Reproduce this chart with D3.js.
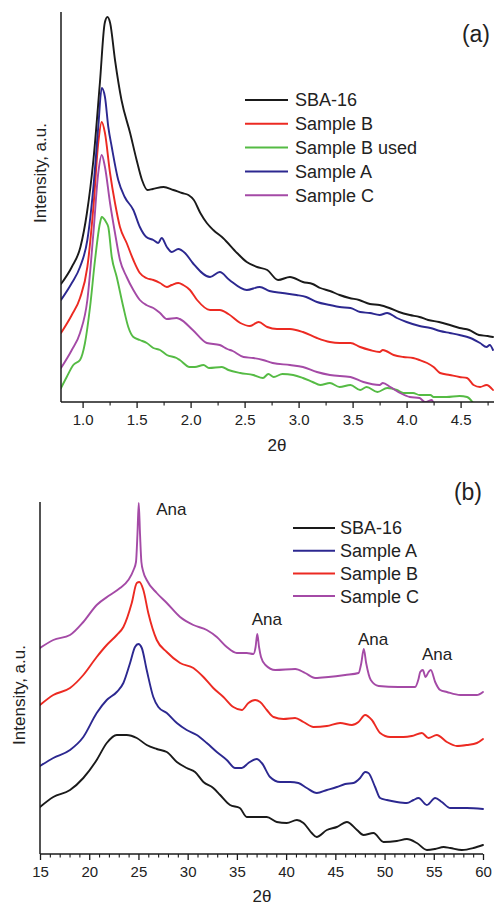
<!DOCTYPE html>
<html>
<head>
<meta charset="utf-8">
<script src="https://cdn.jsdelivr.net/npm/d3@7"></script>
<style>
  html, body { margin: 0; padding: 0; background: #fff; }
  svg { display: block; font-family: "Liberation Sans", Arial, sans-serif; }
</style>
</head>
<body>
<svg id="chart" width="494" height="907"></svg>
<script>
// ---------- Panel (a) data: [2θ, intensity a.u.] ----------
const aSBA16 = [[0.80,118],[0.90,135],[0.98,155],[1.04,189],[1.10,242],[1.16,319],[1.205,379],[1.23,385],[1.255,379],[1.30,342],[1.36,302],[1.44,269],[1.50,242],[1.55,222],[1.60,212],[1.65,213],[1.75,215],[1.84,212],[1.92,209],[1.98,207],[2.03,202],[2.09,189],[2.15,179],[2.21,172],[2.30,164],[2.43,149],[2.52,140],[2.615,135],[2.71,132],[2.81,122],[2.92,125],[3.04,120],[3.13,118],[3.2,114],[3.29,111],[3.38,107],[3.47,104],[3.56,102],[3.66,98],[3.75,97],[3.84,94],[3.93,90],[4.03,87],[4.12,85],[4.2,82],[4.3,80],[4.4,77],[4.49,74],[4.58,72],[4.67,67],[4.75,66],[4.8,65]];
const aSampleB = [[0.8,69],[0.9,87],[0.976,104],[1.044,135],[1.10,195],[1.145,259],[1.177,280],[1.207,269],[1.254,229],[1.30,199],[1.346,175],[1.408,159],[1.47,142],[1.53,129],[1.59,124],[1.655,122],[1.717,119],[1.78,115],[1.825,117],[1.886,119],[1.932,117],[1.994,112],[2.06,102],[2.18,92],[2.27,92],[2.35,88],[2.46,79],[2.55,76],[2.63,80],[2.71,75],[2.80,73],[2.92,73],[3.04,70],[3.17,64],[3.29,60],[3.38,59],[3.48,59],[3.57,55],[3.66,52],[3.75,50],[3.78,52],[3.88,47],[3.97,45],[4.06,44],[4.12,42],[4.19,39],[4.25,35],[4.31,29],[4.4,27],[4.49,25],[4.56,24],[4.62,17],[4.68,15],[4.74,17],[4.8,12]];
const aSampleBUsed = [[0.8,14],[0.853,25],[0.914,37],[0.976,42],[1.022,59],[1.069,95],[1.115,142],[1.161,179],[1.177,185],[1.217,180],[1.238,175],[1.27,145],[1.316,125],[1.377,95],[1.423,75],[1.47,65],[1.53,62],[1.594,59],[1.655,54],[1.717,52],[1.78,47],[1.87,44],[1.90,42],[1.99,35],[2.04,35],[2.12,37],[2.17,34],[2.29,35],[2.35,32],[2.46,29],[2.58,27],[2.67,24],[2.72,28],[2.77,25],[2.85,28],[2.95,27],[3.04,24],[3.13,20],[3.2,17],[3.29,19],[3.38,15],[3.48,17],[3.57,12],[3.63,15],[3.73,10],[3.82,14],[3.91,12],[3.97,9],[4.06,9],[4.12,7],[4.22,7],[4.25,5],[4.37,5],[4.49,6],[4.56,5],[4.61,0]];
const aSampleA = [[0.8,102],[0.9,119],[0.976,135],[1.044,162],[1.10,215],[1.145,275],[1.177,314],[1.207,305],[1.238,275],[1.27,255],[1.33,222],[1.39,205],[1.47,192],[1.53,175],[1.59,165],[1.655,162],[1.70,159],[1.732,164],[1.78,155],[1.825,150],[1.886,153],[1.948,149],[2.02,139],[2.18,125],[2.27,130],[2.36,122],[2.52,112],[2.64,115],[2.73,111],[2.85,109],[2.98,107],[3.07,105],[3.17,100],[3.29,97],[3.38,95],[3.48,94],[3.57,90],[3.66,89],[3.75,87],[3.82,89],[3.91,84],[4.0,80],[4.12,76],[4.22,74],[4.31,71],[4.4,69],[4.49,67],[4.59,64],[4.68,59],[4.74,55],[4.77,57],[4.8,52]];
const aSampleC = [[0.8,34],[0.9,52],[0.976,69],[1.044,102],[1.10,169],[1.145,229],[1.177,247],[1.207,235],[1.254,199],[1.30,169],[1.346,142],[1.408,125],[1.47,112],[1.53,102],[1.59,97],[1.655,94],[1.717,89],[1.78,83],[1.87,84],[1.90,83],[2.02,72],[2.15,59],[2.27,57],[2.34,53],[2.39,51],[2.49,45],[2.58,44],[2.67,42],[2.76,39],[2.92,37],[3.04,35],[3.17,30],[3.29,27],[3.48,25],[3.6,20],[3.75,17],[3.78,19],[3.85,15],[3.94,9],[4.03,5],[4.12,4],[4.17,0],[4.235,2],[4.245,0]];
const aTicks = [1.0, 1.5, 2.0, 2.5, 3.0, 3.5, 4.0, 4.5];
const aLegend = ["SBA-16", "Sample B", "Sample B used", "Sample A", "Sample C"];

// ---------- Panel (b) data: [2θ, intensity a.u.] ----------
const bSBA16 = [[15.0,47],[16.35,57],[18.05,64],[19.4,76],[20.76,94],[21.78,111],[22.8,119],[23.8,119],[24.83,116],[25.84,109],[26.86,105],[27.88,102],[28.9,92],[29.9,86],[30.75,82],[31.6,72],[32.6,66],[33.3,59],[34.3,49],[35.3,46],[36.0,37],[37.0,37],[38.04,37],[39.05,32],[40.07,31],[41.1,34],[41.76,31],[42.6,21],[43.1,17],[44.14,24],[45.15,27],[46.17,32],[47.2,24],[47.86,19],[48.87,21],[49.9,12],[51.25,13],[52.27,15],[53.28,11],[54.3,4],[55.14,5],[56.0,7],[56.67,6],[57.86,4],[59.04,6],[60.0,9]];
const bSampleA = [[15.0,88],[16.35,96],[18.05,104],[19.4,117],[20.76,141],[21.78,154],[22.8,162],[23.47,171],[24.15,191],[24.65,207],[24.99,210],[25.34,206],[25.84,184],[26.51,157],[27.02,147],[27.88,141],[28.9,131],[29.9,124],[30.93,119],[31.94,111],[32.96,102],[33.97,94],[34.82,86],[35.5,86],[36.17,91],[37.02,95],[37.53,91],[38.37,77],[39.39,72],[40.4,72],[41.25,71],[42.1,66],[43.12,61],[44.14,64],[45.15,67],[46.0,70],[46.84,71],[47.52,76],[48.03,82],[48.36,81],[49.04,67],[49.55,56],[50.23,54],[51.25,52],[52.27,51],[52.94,54],[53.45,56],[54.3,49],[55.14,56],[55.82,52],[56.67,46],[58.36,46],[60.0,45]];
const bSampleB = [[15.0,149],[16.35,159],[18.05,166],[19.4,179],[20.76,197],[21.78,209],[22.8,219],[23.47,227],[24.32,251],[24.83,271],[25.09,272],[25.5,264],[26.0,241],[26.86,214],[27.88,202],[29.23,191],[30.58,186],[31.6,177],[32.6,166],[33.63,157],[34.64,147],[35.5,144],[36.17,151],[36.85,154],[37.36,152],[38.04,144],[38.72,137],[39.73,135],[40.91,136],[41.76,132],[42.78,127],[44.14,128],[45.49,131],[46.68,129],[47.35,132],[48.03,139],[48.71,134],[49.55,121],[50.57,117],[51.92,117],[52.77,118],[53.79,121],[54.46,116],[55.3,119],[56.33,112],[57.35,108],[58.36,109],[59.38,111],[60.0,115]];
const bSampleC = [[15.0,206],[16.35,214],[18.05,219],[19.4,232],[20.76,249],[22.11,259],[23.13,266],[23.97,274],[24.5,284],[24.75,292],[24.9,320],[25.03,351],[25.16,320],[25.3,292],[25.5,282],[25.84,274],[26.86,261],[27.88,251],[29.23,237],[30.58,229],[31.94,224],[32.96,217],[33.97,207],[34.99,201],[36.0,201],[36.68,200],[36.9,207],[37.07,220],[37.25,207],[37.45,197],[37.9,189],[38.9,184],[40.93,185],[41.93,181],[42.95,176],[44.3,177],[46.0,179],[47.36,181],[47.64,191],[47.89,205],[48.13,191],[48.6,174],[49.4,168],[51.4,167],[53.1,167],[53.45,175],[53.62,182],[53.89,184],[54.16,177],[54.47,182],[54.7,184],[55.14,172],[55.65,164],[56.33,162],[57.69,159],[59.38,159],[60.0,162]];
const bTicks = [15, 20, 25, 30, 35, 40, 45, 50, 55, 60];
const bLegend = ["SBA-16", "Sample A", "Sample B", "Sample C"];
const bAnaLabels = [[26.8, 339], [36.5, 229], [47.3, 209], [53.8, 194]];

// ---------- colours ----------
const C = { black: "#1a1a1a", red: "#ec2a22", green: "#55bb44", blue: "#2c2890", purple: "#a44aa6" };
const TXT = "#222";

const svg = d3.select("#chart");

function drawPanel(cfg) {
  const g = svg.append("g");
  const x = d3.scaleLinear().domain(cfg.xDomain).range(cfg.xRange);
  const y = d3.scaleLinear().domain(cfg.yDomain).range(cfg.yRange);

  const clipId = "clip-" + cfg.id;
  svg.append("defs").append("clipPath").attr("id", clipId)
    .append("rect")
    .attr("x", cfg.xRange[0]).attr("y", cfg.yRange[1] - 5)
    .attr("width", cfg.xRange[1] - cfg.xRange[0] + 2)
    .attr("height", cfg.yRange[0] - cfg.yRange[1] + 5);

  const line = d3.line().x(d => x(d[0])).y(d => y(d[1])).curve(d3.curveMonotoneX);
  const curves = g.append("g").attr("clip-path", `url(#${clipId})`);
  cfg.series.forEach(s => {
    curves.append("path").datum(s.data)
      .attr("d", line).attr("fill", "none")
      .attr("stroke", s.color).attr("stroke-width", 1.9)
      .attr("stroke-linejoin", "round").attr("stroke-linecap", "round");
  });

  // x axis (major + minor ticks)
  const minor = d3.axisBottom(x).tickValues(cfg.minorTicks).tickSize(3.5).tickFormat("");
  g.append("g").attr("transform", `translate(0,${cfg.yRange[0]})`).call(minor)
    .call(a => a.select(".domain").remove())
    .call(a => a.selectAll("line").attr("stroke", C.black).attr("stroke-width", 1.1));
  const major = d3.axisBottom(x).tickValues(cfg.ticks).tickSize(6).tickPadding(6)
    .tickFormat(cfg.fmt);
  const ax = g.append("g").attr("transform", `translate(0,${cfg.yRange[0]})`).call(major);
  ax.select(".domain").remove();
  ax.selectAll("line").attr("stroke", C.black).attr("stroke-width", 1.3);
  ax.selectAll("text").attr("font-size", 15).attr("fill", TXT)
    .attr("font-family", "Liberation Sans, Arial, sans-serif");

  // axis lines
  g.append("line").attr("x1", cfg.xRange[0]).attr("x2", cfg.axisRight)
    .attr("y1", cfg.yRange[0]).attr("y2", cfg.yRange[0])
    .attr("stroke", C.black).attr("stroke-width", 1.5);
  g.append("line").attr("x1", cfg.xRange[0]).attr("x2", cfg.xRange[0])
    .attr("y1", cfg.yRange[1]).attr("y2", cfg.yRange[0])
    .attr("stroke", C.black).attr("stroke-width", 1.5);

  // axis titles
  g.append("text").attr("x", cfg.xTitle[0]).attr("y", cfg.xTitle[1])
    .attr("text-anchor", "middle").attr("font-size", 17).attr("fill", TXT)
    .text("2θ");
  g.append("text")
    .attr("transform", `translate(${cfg.yTitle[0]},${cfg.yTitle[1]}) rotate(-90)`)
    .attr("text-anchor", "middle").attr("dominant-baseline", "central")
    .attr("font-size", 17).attr("fill", TXT)
    .text("Intensity, a.u.");

  // panel tag
  g.append("text").attr("x", cfg.tag[0]).attr("y", cfg.tag[1])
    .attr("text-anchor", "end").attr("font-size", 23).attr("fill", TXT)
    .text(cfg.tagText);

  // legend
  cfg.legend.names.forEach((name, i) => {
    const yy = cfg.legend.y0 + i * cfg.legend.dy;
    g.append("line").attr("x1", cfg.legend.x0).attr("x2", cfg.legend.x1)
      .attr("y1", yy).attr("y2", yy)
      .attr("stroke", cfg.legend.colors[i]).attr("stroke-width", 2);
    g.append("text").attr("x", cfg.legend.tx).attr("y", yy)
      .attr("dy", "0.36em").attr("font-size", 18).attr("fill", TXT)
      .text(name);
  });
  return { x, y, g };
}

// Panel (a)
drawPanel({
  id: "a",
  xDomain: [0.8, 4.8], xRange: [61, 493], axisRight: 494,
  yDomain: [0, 390], yRange: [402, 12],
  ticks: aTicks, minorTicks: d3.range(1.25, 4.8, 0.5),
  fmt: d3.format(".1f"),
  series: [
    { data: aSampleBUsed, color: C.green },
    { data: aSampleC, color: C.purple },
    { data: aSampleB, color: C.red },
    { data: aSampleA, color: C.blue },
    { data: aSBA16, color: C.black }
  ],
  xTitle: [277, 451], yTitle: [40, 173],
  tag: [490, 42], tagText: "(a)",
  legend: { names: aLegend, colors: [C.black, C.red, C.green, C.blue, C.purple],
            x0: 245, x1: 288, tx: 295, y0: 100, dy: 23.8 }
});

// Panel (b)
const pb = drawPanel({
  id: "b",
  xDomain: [15, 60], xRange: [40, 483], axisRight: 483,
  yDomain: [0, 352], yRange: [854, 502],
  ticks: bTicks, minorTicks: d3.range(16, 60, 1).filter(v => v % 5 !== 0),
  fmt: d3.format("d"),
  series: [
    { data: bSBA16, color: C.black },
    { data: bSampleA, color: C.blue },
    { data: bSampleB, color: C.red },
    { data: bSampleC, color: C.purple }
  ],
  xTitle: [262, 902], yTitle: [19, 695],
  tag: [482, 500], tagText: "(b)",
  legend: { names: bLegend, colors: [C.black, C.blue, C.red, C.purple],
            x0: 293, x1: 335, tx: 340, y0: 528, dy: 22.7 }
});

bAnaLabels.forEach(d => {
  pb.g.append("text").attr("x", pb.x(d[0])).attr("y", pb.y(d[1]))
    .attr("font-size", 17).attr("fill", TXT).text("Ana");
});
</script>
</body>
</html>
